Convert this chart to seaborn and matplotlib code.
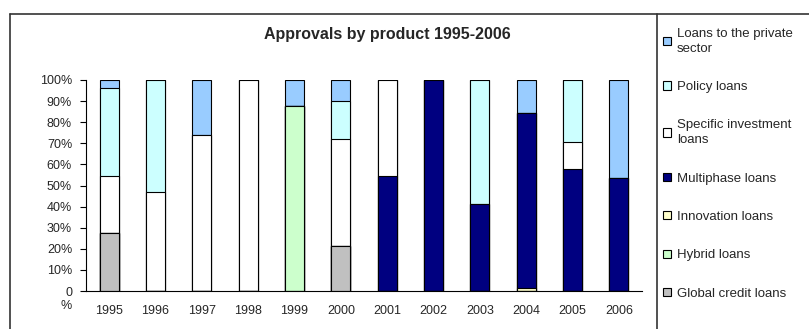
import numpy as np
import pandas as pd
import matplotlib
matplotlib.use("Agg")
import matplotlib.pyplot as plt
from matplotlib.patches import Patch
from matplotlib.lines import Line2D
from matplotlib.transforms import ScaledTranslation
import seaborn as sns

years = ["1995", "1996", "1997", "1998", "1999", "2000",
         "2001", "2002", "2003", "2004", "2005", "2006"]

# shares in %, bottom to top of each stack
global_credit = [27.5, 0, 0, 0, 0, 21.5, 0, 0, 0, 0, 0, 0]
hybrid = [0, 0, 0, 0, 87.5, 0, 0, 0, 0, 0, 0, 0]
innovation = [0, 0, 0, 0, 0, 0, 0, 0, 0, 1.5, 0, 0]
multiphase = [0, 0, 0, 0, 0, 0, 54.5, 100, 41, 83, 58, 53.5]
specific = [27, 47, 74, 100, 0, 50.5, 45.5, 0, 0, 0, 12.5, 0]
policy = [41.5, 53, 0, 0, 0, 18, 0, 0, 59, 0, 29.5, 0]
private = [4, 0, 26, 0, 12.5, 10, 0, 0, 0, 15.5, 0, 46.5]

series = [
    ("Global credit loans", global_credit, "#C0C0C0"),
    ("Hybrid loans", hybrid, "#CCFFCC"),
    ("Innovation loans", innovation, "#FFFFCC"),
    ("Multiphase loans", multiphase, "#000080"),
    ("Specific investment\nloans", specific, "#FFFFFF"),
    ("Policy loans", policy, "#CCFFFF"),
    ("Loans to the private\nsector", private, "#99CCFF"),
]

sns.set_style("white")
plt.rcParams["font.family"] = ["Liberation Sans", "DejaVu Sans"]

fig = plt.figure(figsize=(8.09, 3.29), dpi=100)
ax = fig.add_axes([86 / 809, 1 - 291 / 329, 556 / 809, 211 / 329])

# cumulative stacks, draw tallest first so lower segments sit on top
df = pd.DataFrame({name: vals for name, vals, _ in series}, index=years)
cum = df.cumsum(axis=1)
for (name, _, color) in reversed(series):
    sns.barplot(x=years, y=cum[name].values, color=color, width=0.41,
                edgecolor="black", linewidth=0.8, saturation=1, ax=ax)

ax.set_xlim(-0.5, len(years) - 0.5)
ax.set_ylim(0, 100)
ax.set_yticks(np.arange(0, 101, 10))
ax.set_yticklabels(["0\n%"] + [f"{v}%" for v in range(10, 101, 10)])
ax.set_xticks(np.arange(-0.5, len(years), 1), minor=True)
ax.tick_params(axis="x", which="major", length=0, labelsize=9, pad=10)
ax.tick_params(axis="x", which="minor", length=4, width=0.8, color="black", direction="out")
ax.tick_params(axis="y", length=4, width=0.8, color="black", direction="out",
               labelsize=9, left=True, pad=6)
zero_lbl = ax.get_yticklabels()[0]
zero_lbl.set_transform(zero_lbl.get_transform() + ScaledTranslation(0, -6 / 100, fig.dpi_scale_trans))
for s in ["top", "right"]:
    ax.spines[s].set_visible(False)
for s in ["left", "bottom"]:
    ax.spines[s].set_color("black")
    ax.spines[s].set_linewidth(0.8)
ax.set_xlabel("")
ax.set_ylabel("")

fig.text(387 / 809, 1 - 34 / 329, "Approvals by product 1995-2006",
         ha="center", va="center", fontsize=11.5, fontweight="bold")

handles = [Patch(facecolor=c, edgecolor="black", linewidth=0.8, label=n)
           for n, _, c in reversed(series)]
leg = fig.legend(handles=handles, loc="upper left", bbox_to_anchor=(663 / 809, 1 - 28 / 329),
                 frameon=False, fontsize=9.5, handlelength=0.6, handleheight=0.6,
                 handletextpad=0.45, labelspacing=2.0, borderpad=0, borderaxespad=0)
for t in leg.get_texts():
    t.set_linespacing(1.3)

# outer frame
frame_kw = dict(color="#333333", linewidth=1.2, transform=fig.transFigure)
fig.add_artist(Line2D([10 / 809, 1], [1 - 14 / 329] * 2, **frame_kw))
fig.add_artist(Line2D([10 / 809] * 2, [0, 1 - 14 / 329], **frame_kw))
fig.add_artist(Line2D([657 / 809] * 2, [0, 1 - 14 / 329], **frame_kw))

fig.savefig("out.png", dpi=100)
